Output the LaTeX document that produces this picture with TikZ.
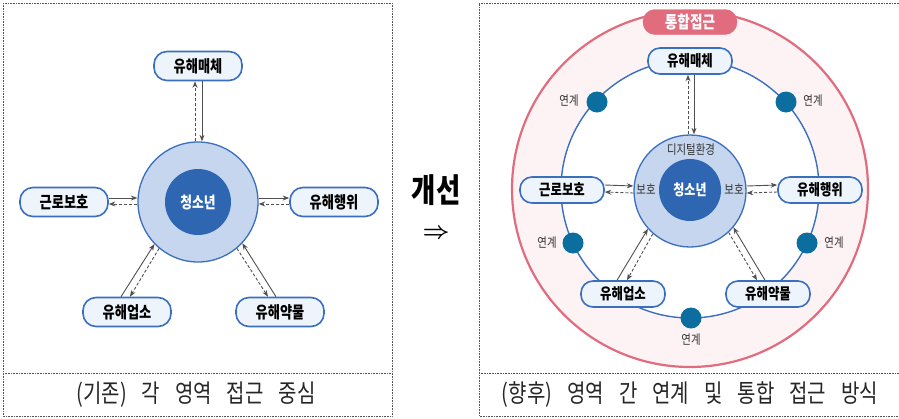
\documentclass[tikz,border=0pt]{standalone}
\usepackage{fontspec}
\usepackage{graphicx}
\setmainfont{Noto Sans CJK KR}[FakeStretch=0.8]
\usetikzlibrary{arrows.meta,calc}
\definecolor{nodeblue}{HTML}{3A6FC0}
\definecolor{nodefill}{HTML}{EEF4FB}
\definecolor{ringfill}{HTML}{C5D6EE}
\definecolor{corefill}{HTML}{2E66B2}
\definecolor{arrgray}{HTML}{505050}
\definecolor{pinkline}{HTML}{E06C7E}
\definecolor{pinkfill}{HTML}{FDF3F5}
\definecolor{dotblue}{HTML}{0B6E9F}
\definecolor{framegray}{HTML}{555555}
\definecolor{txtgray}{HTML}{333333}
\newcommand\lgap{\hspace{15pt}}
\newcommand\rgap{\hspace{15pt}}
\begin{document}
\begin{tikzpicture}[x=1pt,y=-1pt,
  frame/.style={draw=framegray, densely dotted, line width=0.6pt},
  boxL/.style={draw=nodeblue, line width=1.6pt, fill=nodefill, rounded corners=13pt,
    minimum width=88pt, minimum height=29pt, inner sep=0pt,
    font=\fontsize{16.5}{16.5}\selectfont\bfseries, text=black},
  boxR/.style={boxL, minimum width=84pt, minimum height=26pt, rounded corners=12pt,
    font=\fontsize{15.5}{15.5}\selectfont\bfseries},
  ring/.style={circle, draw=nodeblue, line width=1.3pt, fill=ringfill, inner sep=0pt},
  core/.style={circle, fill=corefill, inner sep=0pt, text=white,
    font=\fontsize{16}{16}\selectfont\bfseries},
  solidarr/.style={draw=arrgray, line width=0.9pt, -{Stealth[length=6.5pt,width=5pt]}},
  dasharr/.style={solidarr, dash pattern=on 3pt off 2pt},
  dot/.style={circle, fill=dotblue, minimum size=21pt, inner sep=0pt},
  smalltxt/.style={font=\fontsize{13}{13}\selectfont, text=txtgray, inner sep=0pt},
  caption/.style={font=\fontsize{25}{25}\selectfont, text=black!85, inner sep=0pt}
]
\useasboundingbox (0,0) rectangle (899,418);
% frames
\draw[frame] (3,3) rectangle (392,416);
\draw[frame] (3,373) -- (392,373);
\draw[frame] (899,3) -- (479,3) -- (479,416) -- (899,416);
\draw[frame] (479,373) -- (899,373);

% ---------- left diagram ----------
\node[ring, minimum size=120pt] (lc) at (198,202) {};
\node[core, minimum size=66pt] (lcore) at (198,202) {청소년};
\node[boxL] (lm) at (198,66) {유해매체};
\node[boxL] (lw) at (64,202) {근로보호};
\node[boxL] (le) at (334,202) {유해행위};
\node[boxL] (lb1) at (127,312) {유해업소};
\node[boxL] (lb2) at (280,312) {유해약물};

\draw[solidarr] ($(lm.south)+(4,0)$) -- ($(lc.north)+(4,0)$);
\draw[dasharr] ($(lc.north)+(-3,0)$) -- ($(lm.south)+(-3,0)$);
\draw[solidarr] ($(lw.east)+(0,-4)$) -- ($(lc.west)+(0,-4)$);
\draw[dasharr] ($(lc.west)+(0,2)$) -- ($(lw.east)+(0,2)$);
\draw[solidarr] ($(lc.east)+(0,-4)$) -- ($(le.west)+(0,-4)$);
\draw[dasharr] ($(le.west)+(0,2)$) -- ($(lc.east)+(0,2)$);
\draw[solidarr] ($(lb1.north)+(-6,0)$) -- (lc.224);
\draw[dasharr] (lc.230) -- ($(lb1.north)+(3,0)$);
\draw[solidarr] ($(lb2.north)+(-4,0)$) -- (lc.317);
\draw[dasharr] (lc.310) -- ($(lb2.north)+(-12,0)$);

\node[caption] (lcap) at (196,395) {(기존)\lgap 각\lgap 영역\lgap 접근\lgap 중심};

% ---------- middle ----------
\node[font=\fontsize{33}{33}\selectfont\bfseries, inner sep=0pt] (imp) at (436,190) {개선};
\node[inner sep=0pt] (arr) at (436,234) {\resizebox{27pt}{!}{\boldmath$\Rightarrow$}};

% ---------- right diagram ----------
\draw[draw=pinkline, line width=2.2pt, fill=pinkfill] (690,189) circle[radius=178];
\draw[draw=nodeblue, line width=1.4pt, fill=white] (690,189) circle[radius=129];
\node[draw=pinkline, fill=pinkline, rounded corners=12pt, minimum width=94pt, minimum height=25pt,
  inner sep=0pt, text=white, font=\fontsize{17}{17}\selectfont\bfseries] (tong) at (690,22) {통합접근};

\node[dot] (d1) at (597,102) {};
\node[dot] (d2) at (786,102) {};
\node[dot] (d3) at (573,243) {};
\node[dot] (d4) at (807,243) {};
\node[dot] (d5) at (691,318) {};
\node[smalltxt] (t1) at (569,101) {연계};
\node[smalltxt] (t2) at (813,101) {연계};
\node[smalltxt] (t3) at (547,243) {연계};
\node[smalltxt] (t4) at (834,243) {연계};
\node[smalltxt] (t5) at (691,340) {연계};

\node[ring, minimum size=112pt] (rc) at (690,191) {};
\node[core, minimum size=62pt, font=\fontsize{15}{15}\selectfont\bfseries] (rcore) at (690,190) {청소년};
\node[smalltxt] (dig) at (691,150) {디지털환경};
\node[smalltxt] (bl) at (646,189) {보호};
\node[smalltxt] (br) at (734,189) {보호};

\node[boxR] (rm) at (690,61) {유해매체};
\node[boxR] (rw) at (562,190) {근로보호};
\node[boxR] (re) at (820,190) {유해행위};
\node[boxR] (rb1) at (623,294) {유해업소};
\node[boxR] (rb2) at (768,294) {유해약물};

\draw[solidarr] ($(rm.south)+(4,0)$) -- ($(rc.north)+(4,0)$);
\draw[dasharr] ($(rc.north)+(-2,0)$) -- ($(rm.south)+(-2,0)$);
\draw[solidarr] ($(rw.east)+(0,-5)$) -- ($(rc.west)+(0,-5)$);
\draw[dasharr] ($(rc.west)+(0,2)$) -- ($(rw.east)+(0,2)$);
\draw[solidarr] ($(rc.east)+(0,-5)$) -- ($(re.west)+(0,-5)$);
\draw[dasharr] ($(re.west)+(0,2)$) -- ($(rc.east)+(0,2)$);
\draw[solidarr] ($(rb1.north)+(-6,0)$) -- (rc.222);
\draw[dasharr] (rc.229) -- ($(rb1.north)+(4,0)$);
\draw[solidarr] ($(rb2.north)+(-3,0)$) -- (rc.320);
\draw[dasharr] (rc.313) -- ($(rb2.north)+(-11,0)$);

\node[caption] (rcap) at (690,395) {(향후)\rgap 영역\rgap 간\rgap 연계\rgap 및\rgap 통합\rgap 접근\rgap 방식};
\end{tikzpicture}
\end{document}
